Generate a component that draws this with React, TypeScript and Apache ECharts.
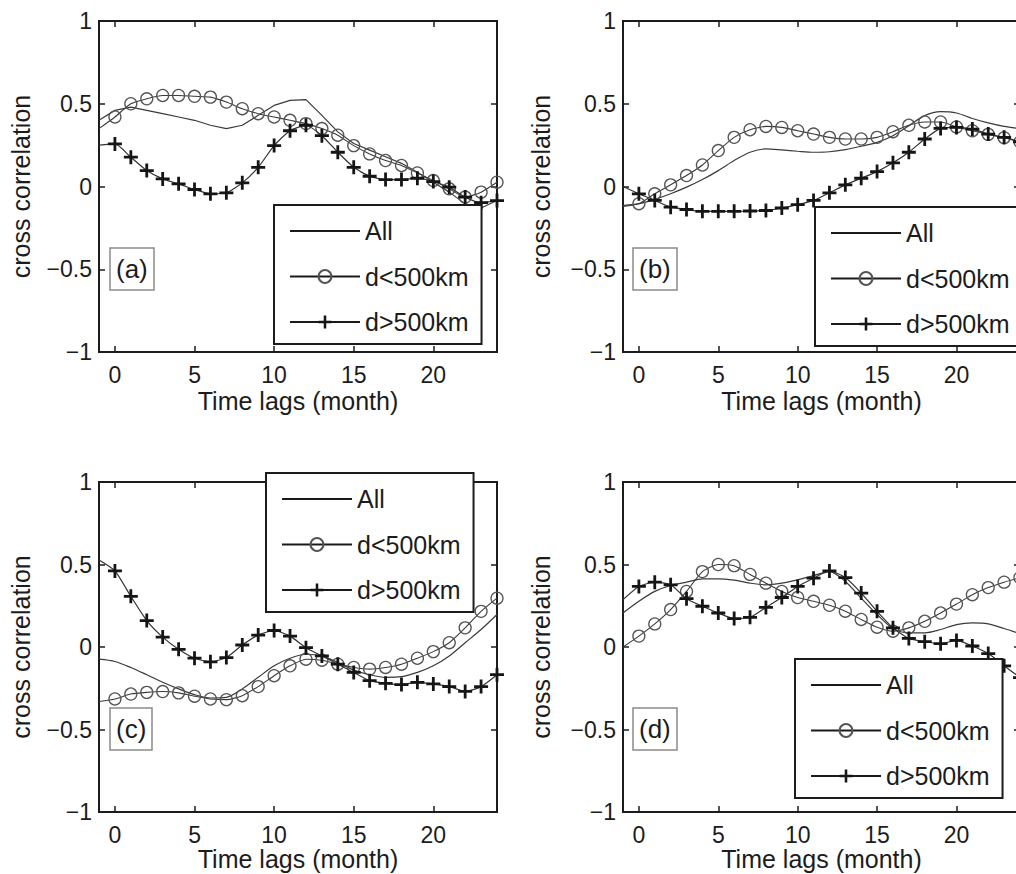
import React, { useEffect, useRef } from "react";
import * as echarts from "echarts";

// Time lags (month); the value at -1 only continues the line to the left border
const lags = [-1, 0, 1, 2, 3, 4, 5, 6, 7, 8, 9, 10, 11, 12, 13, 14, 15, 16, 17, 18, 19, 20, 21, 22, 23, 24];
const xTicks = [0, 5, 10, 15, 20];
const seriesNames = ["All", "d<500km", "d>500km"];
const panelLabels = ["(a)", "(b)", "(c)", "(d)"];

// Panel (a)
const allA = [0.40, 0.46, 0.48, 0.46, 0.44, 0.42, 0.40, 0.37, 0.35, 0.37, 0.43, 0.49, 0.52, 0.525, 0.43, 0.33, 0.26, 0.22, 0.18, 0.14, 0.086, 0.026, -0.034, -0.105, -0.13, -0.085];
const nearA = [0.35, 0.42, 0.50, 0.53, 0.55, 0.55, 0.545, 0.54, 0.51, 0.47, 0.44, 0.42, 0.40, 0.38, 0.35, 0.31, 0.247, 0.197, 0.157, 0.127, 0.082, 0.036, -0.014, -0.064, -0.034, 0.026];
const farA = [0.25, 0.257, 0.177, 0.096, 0.046, 0.016, -0.018, -0.044, -0.038, 0.022, 0.116, 0.247, 0.337, 0.37, 0.307, 0.207, 0.116, 0.062, 0.042, 0.042, 0.05, 0.03, -0.004, -0.064, -0.098, -0.085];

// Panel (b)
const allB = [-0.115, -0.104, -0.078, -0.044, -0.004, 0.042, 0.096, 0.157, 0.207, 0.227, 0.221, 0.213, 0.207, 0.21, 0.223, 0.243, 0.267, 0.307, 0.367, 0.428, 0.452, 0.444, 0.411, 0.384, 0.363, 0.35];
const nearB = [-0.12, -0.104, -0.044, 0.01, 0.066, 0.13, 0.217, 0.297, 0.343, 0.363, 0.357, 0.337, 0.317, 0.297, 0.287, 0.287, 0.297, 0.331, 0.37, 0.39, 0.39, 0.36, 0.337, 0.315, 0.295, 0.27];
const farB = [0.0, -0.044, -0.084, -0.125, -0.139, -0.15, -0.15, -0.15, -0.148, -0.145, -0.13, -0.11, -0.084, -0.038, 0.01, 0.05, 0.09, 0.143, 0.207, 0.287, 0.351, 0.357, 0.347, 0.317, 0.297, 0.27];

// Panel (c)
const allC = [-0.074, -0.088, -0.124, -0.168, -0.214, -0.254, -0.289, -0.309, -0.305, -0.254, -0.184, -0.114, -0.068, -0.044, -0.054, -0.094, -0.14, -0.168, -0.184, -0.18, -0.154, -0.114, -0.054, 0.026, 0.106, 0.197];
const nearC = [-0.33, -0.315, -0.285, -0.275, -0.27, -0.278, -0.298, -0.315, -0.319, -0.295, -0.24, -0.174, -0.114, -0.074, -0.08, -0.104, -0.124, -0.134, -0.124, -0.104, -0.068, -0.028, 0.026, 0.116, 0.216, 0.296];
const farC = [0.527, 0.461, 0.307, 0.16, 0.06, -0.014, -0.068, -0.09, -0.064, 0.012, 0.072, 0.10, 0.066, -0.004, -0.054, -0.104, -0.154, -0.204, -0.22, -0.228, -0.214, -0.224, -0.24, -0.269, -0.24, -0.168];

// Panel (d)
const allD = [0.206, 0.277, 0.337, 0.373, 0.393, 0.413, 0.413, 0.405, 0.387, 0.377, 0.387, 0.407, 0.433, 0.457, 0.397, 0.296, 0.197, 0.112, 0.086, 0.086, 0.106, 0.136, 0.146, 0.14, 0.112, 0.08];
const nearD = [0.0, 0.066, 0.14, 0.227, 0.337, 0.457, 0.5, 0.493, 0.44, 0.387, 0.337, 0.30, 0.277, 0.253, 0.217, 0.167, 0.12, 0.096, 0.116, 0.156, 0.206, 0.26, 0.317, 0.36, 0.393, 0.42];
const farD = [0.287, 0.367, 0.393, 0.377, 0.293, 0.247, 0.206, 0.172, 0.18, 0.24, 0.30, 0.367, 0.417, 0.461, 0.421, 0.327, 0.216, 0.116, 0.052, 0.032, 0.02, 0.04, 0.006, -0.04, -0.114, -0.185];

const panelData = [
  [allA, nearA, farA],
  [allB, nearB, farB],
  [allC, nearC, farC],
  [allD, nearD, farD],
];

// Layout (pixels)
const layout = [
  { left: 99, top: 21, width: 398, height: 331, legendLeft: 274, legendTop: 205, tagLeft: 110, tagTop: 248, yGap: 66, xGap: 36, allSmooth: false },
  { left: 623, top: 21, width: 397, height: 331, legendLeft: 815, legendTop: 207, tagLeft: 633, tagTop: 248, yGap: 70, xGap: 36, allSmooth: 0.3 },
  { left: 99, top: 482, width: 398, height: 330, legendLeft: 266, legendTop: 473, tagLeft: 110, tagTop: 708, yGap: 66, xGap: 34, allSmooth: 0.3 },
  { left: 623, top: 482, width: 397, height: 330, legendLeft: 795, legendTop: 659, tagLeft: 633, tagTop: 708, yGap: 70, xGap: 34, allSmooth: 0.3 },
];

const FONT = '"Liberation Sans", Arial, Helvetica, sans-serif';
const INK = "#1c1c1c";
const PLUS = "path://M-1.2,-6L1.2,-6L1.2,-1.2L6,-1.2L6,1.2L1.2,1.2L1.2,6L-1.2,6L-1.2,1.2L-6,1.2L-6,-1.2L-1.2,-1.2Z";

const fmtY = (v: number) => (v < 0 ? "\u2212" + Math.abs(v) : String(v));

function toPoints(vals: number[]) {
  return lags.map((x, i) => (x < 0 ? { value: [x, vals[i]], symbol: "none" } : { value: [x, vals[i]] }));
}

function buildOption() {
  const grid: any[] = [];
  const xAxis: any[] = [];
  const yAxis: any[] = [];
  const series: any[] = [];
  const legend: any[] = [];
  const title: any[] = [];

  layout.forEach((L, i) => {
    grid.push({
      left: L.left,
      top: L.top,
      width: L.width,
      height: L.height,
      outerBoundsMode: "none",
      show: true,
      borderColor: INK,
      borderWidth: 2,
      backgroundColor: "transparent",
    });
    const tick = { show: true, inside: true, length: 6, lineStyle: { color: INK, width: 1.5 } };
    const noLine = { show: false, onZero: false };
    xAxis.push({
      type: "value",
      gridIndex: i,
      min: -1,
      max: 24,
      position: "bottom",
      axisLine: noLine,
      splitLine: { show: false },
      axisTick: { ...tick, customValues: xTicks },
      axisLabel: { customValues: xTicks, fontSize: 23, color: INK, margin: 11, fontFamily: FONT },
      name: "Time lags (month)",
      nameLocation: "middle",
      nameGap: L.xGap,
      nameTextStyle: { fontSize: 25, color: INK, fontFamily: FONT, verticalAlign: "top", lineHeight: 25 },
    });
    xAxis.push({
      type: "value",
      gridIndex: i,
      min: -1,
      max: 24,
      position: "top",
      axisLine: noLine,
      splitLine: { show: false },
      axisTick: { ...tick, customValues: xTicks },
      axisLabel: { show: false, customValues: xTicks },
    });
    yAxis.push({
      type: "value",
      gridIndex: i,
      min: -1,
      max: 1,
      interval: 0.5,
      position: "left",
      axisLine: noLine,
      splitLine: { show: false },
      axisTick: tick,
      axisLabel: { formatter: fmtY, fontSize: 23, color: INK, margin: 7, fontFamily: FONT },
      name: "cross correlation",
      nameLocation: "middle",
      nameGap: L.yGap,
      nameTextStyle: { fontSize: 25, color: INK, fontFamily: FONT },
    });
    yAxis.push({
      type: "value",
      gridIndex: i,
      min: -1,
      max: 1,
      interval: 0.5,
      position: "right",
      axisLine: noLine,
      splitLine: { show: false },
      axisTick: tick,
      axisLabel: { show: false },
    });

    const [all, near, far] = panelData[i];
    const xi = i * 2;
    const yi = i * 2;
    series.push({
      type: "line",
      name: seriesNames[0],
      xAxisIndex: xi,
      yAxisIndex: yi,
      data: toPoints(all),
      symbol: "none",
      smooth: L.allSmooth,
      lineStyle: { color: "#3a3a3a", width: 1.2 },
      itemStyle: { color: "#3a3a3a" },
      silent: true,
      z: 2,
    });
    series.push({
      type: "line",
      name: seriesNames[1],
      xAxisIndex: xi,
      yAxisIndex: yi,
      data: toPoints(near),
      symbol: "circle",
      symbolSize: 12,
      smooth: 0.2,
      lineStyle: { color: "#3a3a3a", width: 1.1 },
      itemStyle: { color: "rgba(255,255,255,0)", borderColor: "#555", borderWidth: 1.3 },
      silent: true,
      z: 3,
    });
    series.push({
      type: "line",
      name: seriesNames[2],
      xAxisIndex: xi,
      yAxisIndex: yi,
      data: toPoints(far),
      symbol: PLUS,
      symbolSize: 14,
      smooth: 0.2,
      lineStyle: { color: "#333", width: 1.2 },
      itemStyle: { color: "#151515" },
      silent: true,
      z: 4,
    });

    legend.push({
      data: [{ name: seriesNames[0], itemStyle: { opacity: 0 } }, seriesNames[1], seriesNames[2]],
      orient: "vertical",
      left: L.legendLeft,
      top: L.legendTop,
      itemWidth: 70,
      itemHeight: 16,
      itemGap: 20.5,
      padding: [13.5, 13, 9.5, 15],
      backgroundColor: "#ffffff",
      borderColor: INK,
      borderWidth: 2,
      borderRadius: 0,
      selectedMode: false,
      lineStyle: { width: 2, color: "#1a1a1a" },
      textStyle: { fontSize: 25, color: INK, fontFamily: FONT, lineHeight: 25 },
      z: 10,
    });

    title.push({
      text: panelLabels[i],
      left: L.tagLeft,
      top: L.tagTop,
      padding: [7, 6, 7, 6],
      borderColor: "#8a8a8a",
      borderWidth: 1.5,
      textStyle: { fontSize: 26, fontWeight: "normal", color: INK, fontFamily: FONT, lineHeight: 28 },
      z: 10,
    });
  });

  return {
    animation: false,
    backgroundColor: "#ffffff",
    title,
    legend,
    grid,
    xAxis,
    yAxis,
    series,
  };
}

export default function App() {
  const ref = useRef<HTMLDivElement>(null);
  useEffect(() => {
    if (!ref.current) return;
    const chart = echarts.init(ref.current, undefined, { renderer: "svg" });
    chart.setOption(buildOption() as any);
    return () => chart.dispose();
  }, []);
  return (
    <div
      ref={ref}
      style={{ position: "fixed", left: 0, top: 0, width: 1016, height: 874, background: "#fff" }}
    />
  );
}
